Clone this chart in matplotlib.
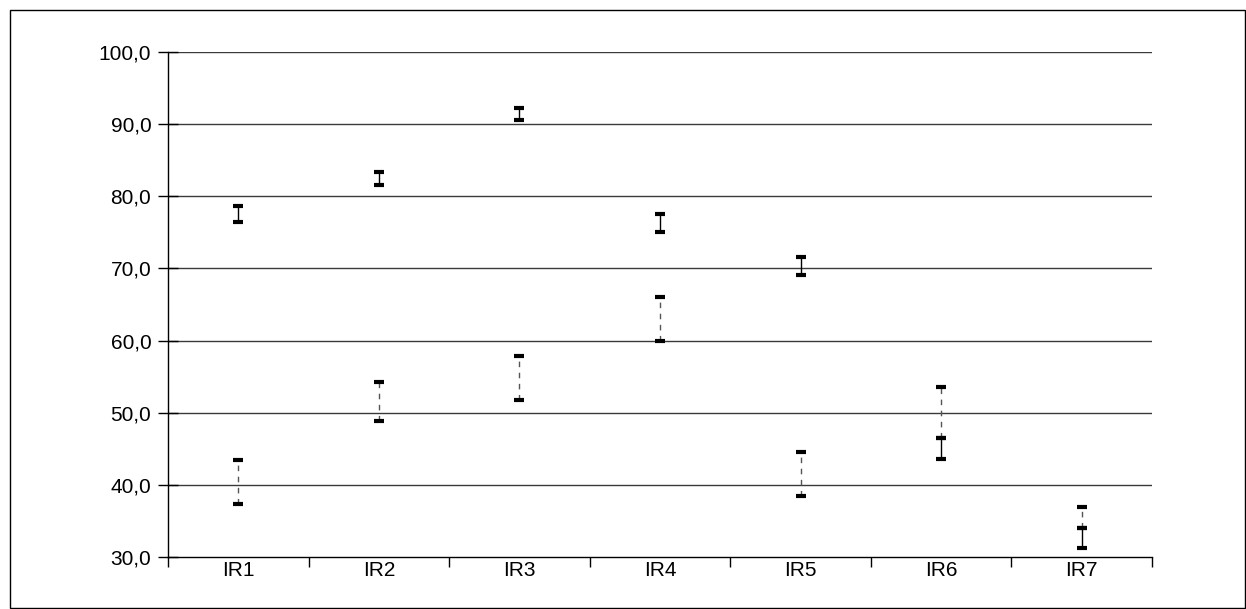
import numpy as np
import matplotlib
matplotlib.use("Agg")
import matplotlib.pyplot as plt
from matplotlib.patches import Rectangle

plt.rcParams['font.family'] = ['Liberation Sans', 'DejaVu Sans']

# categorias e intervalos (limite superior / inferior)
categorias = ['IR1', 'IR2', 'IR3', 'IR4', 'IR5', 'IR6', 'IR7']
solido_sup = [78.6, 83.3, 92.3, 77.5, 71.6, 46.5, 34.0]
solido_inf = [76.4, 81.6, 90.6, 75.0, 69.1, 43.6, 31.2]
tracejado_sup = [43.4, 54.2, 57.9, 66.0, 44.5, 53.6, 37.0]
tracejado_inf = [37.3, 48.9, 51.7, 60.0, 38.4, 46.5, 34.0]
yticks = [30, 40, 50, 60, 70, 80, 90, 100]

W, H = 1246, 609
fig = plt.figure(figsize=(W / 100, H / 100), dpi=100)
fig.patches.append(Rectangle((10 / W, 1 / H), (W - 11) / W, (H - 11) / H,
                             transform=fig.transFigure, fill=False,
                             edgecolor='black', linewidth=1.0))

ax = fig.add_axes([168 / W, 1 - 557 / H, (1152 - 168) / W, (557 - 52) / H])
x = np.arange(len(categorias))

# linhas de grade
for v in yticks[1:]:
    ax.axhline(v, color='#3a3a3a', linewidth=1.0, zorder=1)

# intervalos tracejados
ax.vlines(x, tracejado_inf, tracejado_sup, colors='#555555', linestyles=(0, (4, 4)),
          linewidth=1.0, zorder=2)
# intervalos sólidos
ax.vlines(x, solido_inf, solido_sup, colors='black', linewidth=1.0, zorder=2)

for arr in (tracejado_sup, tracejado_inf, solido_sup, solido_inf):
    ax.plot(x, arr, linestyle='none', marker='_', markersize=7.5,
            markeredgewidth=3.0, color='black', zorder=3)

ax.set_xlim(-0.5, len(categorias) - 0.5)
ax.set_ylim(30, 100)
ax.set_yticks(yticks)
ax.set_yticklabels([f"{v:.1f}".replace('.', ',') for v in yticks], fontsize=15)
ax.tick_params(axis='y', direction='inout', length=14, width=1.0, pad=5)

ax.set_xticks(np.arange(-0.5, len(categorias)), minor=False)
ax.set_xticklabels([])
ax.set_xticks(x, minor=True)
ax.set_xticklabels(categorias, minor=True, fontsize=15)
ax.tick_params(axis='x', which='major', direction='out', length=7, width=1.0)
ax.tick_params(axis='x', which='minor', length=0, pad=3)

for s in ['top', 'right']:
    ax.spines[s].set_visible(False)
for s in ['left', 'bottom']:
    ax.spines[s].set_linewidth(1.0)

fig.savefig('out.png', dpi=100)
